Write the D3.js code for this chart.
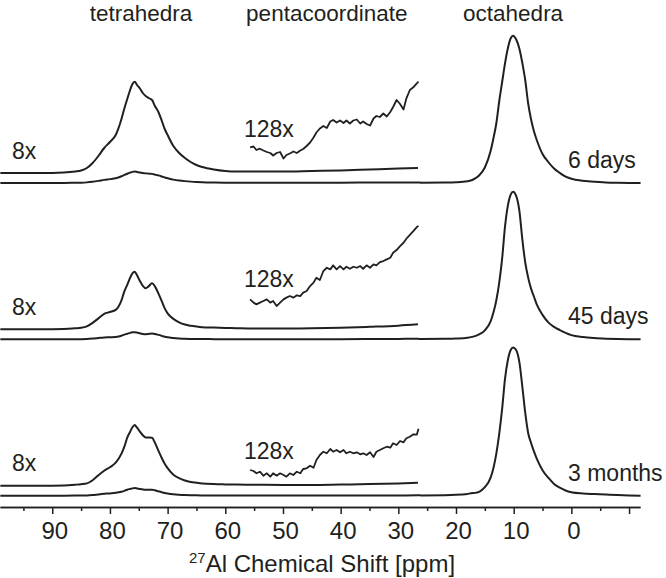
<!DOCTYPE html>
<html><head><meta charset="utf-8">
<script src="https://cdn.jsdelivr.net/npm/d3@7"></script>
<style>
body{margin:0;background:#fff}
svg{display:block}
text{font-family:"Liberation Sans",Arial,Helvetica,sans-serif;fill:#231f20}
</style>
</head><body>
<svg id="chart" width="666" height="578"></svg>
<script>
// ---------------- DATA ----------------
const samples = ["6 days", "45 days", "3 months"];
const regionLabels = ["tetrahedra", "pentacoordinate", "octahedra"];
const regionCenters = [74.6, 42.4, 10.1]; // ppm
const majorTicks = [90, 80, 70, 60, 50, 40, 30, 20, 10, 0, -10];
const minorTicks = [95, 85, 75, 65, 55, 45, 35, 25, 15, 5, -5];
const tickLabels = ["90", "80", "70", "60", "50", "40", "30", "20", "10", "0", ""];

// tetrahedral region (8x magnified trace), ppm grid
const tetraPpm = [99, 92, 88, 86, 85, 84, 83, 82, 81, 80, 79, 78, 77.5, 77, 76.5, 76.1, 75.7, 75.3, 74.8, 74.3, 73.8, 73.3, 72.7, 72.2, 71.6, 71, 70.5, 70, 69, 68, 67, 66, 65, 64, 62, 60, 58, 55, 50, 45, 40, 35, 30, 26.6];
const tetra8x_6days = [0, 0, 0.5, 1.5, 2.5, 5, 10, 17, 25, 31, 38, 54, 64.5, 74, 83, 89, 91.3, 88, 84.5, 80, 77, 75, 73, 67, 61, 52, 44, 38, 27, 20, 15, 11, 8, 6, 3.5, 2, 1.5, 1.5, 1.5, 2, 2.5, 3.5, 4.5, 5];
const tetra8x_45days = [0, 0, 0.3, 1, 1.5, 3, 6.5, 11, 15.5, 17.3, 19.5, 29, 38, 44.5, 51.6, 56, 57.6, 54, 48.3, 43.5, 41.2, 43, 46, 43, 36, 28, 21, 16, 10.5, 7, 4.8, 3.6, 2.8, 2.2, 1.8, 1.4, 1.1, 0.8, 0.8, 1, 1.5, 2.5, 3.7, 5];
const tetra8x_3months = [0, 0, 0.3, 1, 1.5, 2.3, 5.5, 10.5, 15, 18.5, 23, 32, 39, 48, 54, 58.5, 60.7, 58, 54, 50.5, 48.3, 48.3, 48, 43, 35, 27.5, 22, 17.5, 11, 7.5, 5.2, 3.8, 3, 2.3, 1.6, 1.3, 1.1, 1, 0.8, 0.8, 1.2, 1.6, 2.3, 3];

// pentacoordinate region (128x magnified trace), ppm grid
const pentaPpm = [55.7, 55.1, 54.6, 54.0, 53.4, 52.8, 52.2, 51.7, 51.1, 50.5, 49.9, 49.4, 48.8, 48.2, 47.6, 47.0, 46.5, 45.9, 45.3, 44.7, 44.2, 43.6, 43.0, 42.4, 41.8, 41.3, 40.7, 40.1, 39.5, 39.0, 38.4, 37.8, 37.2, 36.6, 36.1, 35.5, 34.9, 34.3, 33.8, 33.2, 32.6, 32.0, 31.4, 30.9, 30.3, 29.7, 29.1, 28.6, 28.0, 27.4, 26.8, 26.5];
const penta128x_6days = [3.7, 4.5, 1.0, 2.3, 0.5, -1.0, -2.0, -4.5, -2.0, -1.0, -7.5, -4.0, -2.5, -0.5, -2.0, 0.5, 2.0, 5.0, 8.5, 13.5, 18.5, 22.5, 25, 23, 29.5, 31, 28.5, 30.5, 28, 30.5, 27.5, 30.5, 31.5, 27.5, 29.5, 27, 25.5, 32.5, 35, 34, 37.5, 34.5, 39, 44, 51, 47, 41.5, 52.7, 61, 63.7, 67.7, 69.3];
const penta128x_45days = [6, 2.7, 1, 2.7, 4.3, 6, 2.7, 4.3, -0.7, 2.7, 6, 7.7, 9.3, 7.7, 10, 9.3, 12.7, 14.3, 19.3, 22.7, 27.6, 25.3, 34.3, 37.6, 36, 40, 36, 39.3, 36, 38.6, 36.6, 38.6, 37.6, 39.3, 36.6, 40, 37.6, 41, 40, 43.3, 44.3, 46, 47.6, 52.6, 55.3, 59.3, 62.6, 66.6, 70.5, 74.3, 78.3, 79.3];
const penta128x_3months = [4.7, 3.7, 1.4, 3, -1, 1.4, -2, 1.4, -1, 1.4, -0.3, -2, 1.4, -0.3, 3, 1.4, 5.7, 6.4, 9, 7, 14.7, 19.7, 23, 21.4, 25.7, 23, 24.7, 22.4, 24.7, 21.4, 23, 21.4, 22.4, 20.4, 21.4, 19.7, 22.4, 17.7, 23, 24.7, 26.4, 28, 27, 31.4, 29.7, 33.7, 32.4, 36.4, 38, 40.4, 40, 46];

// octahedral region (1x trace), ppm grid
const octaPpm = [26, 22, 20, 18, 17, 16, 15, 14, 13.5, 13, 12.5, 12, 11.5, 11, 10.5, 10.1, 9.6, 9, 8.5, 8, 7.5, 7, 6.5, 6, 5, 4, 3, 2, 1, 0, -2, -4, -6, -8, -10, -12];
const octa_6days = [0.3, 0.5, 0.8, 1.8, 3.5, 7.5, 15.5, 32, 45, 60, 82, 101, 119.7, 135, 145, 147.3, 144, 134, 120, 103, 80, 64, 52, 43, 29, 21, 14.5, 10, 6.3, 4.3, 2.3, 1.2, 0.6, 0.3, 0.1, 0];
const octa_45days = [0.3, 0.5, 0.8, 1.6, 2.7, 5, 9, 18, 27, 39.3, 57, 81, 113, 134, 145, 147.6, 144, 128, 100, 77, 62, 51, 43, 35, 24.5, 17, 12.5, 9.3, 6.5, 4.2, 2.3, 1.3, 0.7, 0.3, 0.1, 0];
const octa_3months = [0.3, 0.5, 0.9, 1.8, 2.6, 3.9, 8.5, 18, 28, 42.4, 62, 87, 117, 136, 146, 148.3, 146, 133, 109, 83, 63, 53, 44.5, 37, 25.5, 18, 11.8, 8, 5.2, 3.5, 2.2, 1.6, 1.1, 0.6, 0.2, 0];

const magnif8 = 8;
const tetraSeries = [tetra8x_6days, tetra8x_45days, tetra8x_3months];
const pentaSeries = [penta128x_6days, penta128x_45days, penta128x_3months];
const octaSeries = [octa_6days, octa_45days, octa_3months];

// ---------------- LAYOUT ----------------
const trace8xOffset = 10;              // amplitude units above 1x baseline
const trace128xOffset = [32, 34, 21];  // amplitude units above 1x baseline
const label128Dy = [14, 18, 16];

const svg = d3.select("#chart");
const x = d3.scaleLinear().domain([99.06, -11.9]).range([0, 640]);
const rowY = d3.scaleLinear().domain([0, samples.length - 1]).range([183, 495.7]);
const amp = d3.scaleLinear().domain([0, 150]).range([0, 150]);

const ink = "#231f20";
const smooth = d3.line().curve(d3.curveMonotoneX);
const jagged = d3.line().curve(d3.curveLinear);

samples.forEach((name, i) => {
  const base = rowY(i);
  const t = tetraSeries[i], p = pentaSeries[i], o = octaSeries[i];

  // 1x full trace
  const pts1 = tetraPpm.map((ppm, k) => [x(ppm), base - amp(t[k] / magnif8)])
    .concat(octaPpm.map((ppm, k) => [x(ppm), base - amp(o[k])]));
  svg.append("path").attr("d", smooth(pts1))
    .attr("fill", "none").attr("stroke", ink).attr("stroke-width", 2).attr("stroke-linejoin", "round");

  // 8x trace
  const pts8 = tetraPpm.map((ppm, k) => [x(ppm), base - amp(trace8xOffset + t[k])]);
  svg.append("path").attr("d", smooth(pts8))
    .attr("fill", "none").attr("stroke", ink).attr("stroke-width", 2).attr("stroke-linejoin", "round");

  // 128x trace
  const pts128 = pentaPpm.map((ppm, k) => [x(ppm), base - amp(trace128xOffset[i] + p[k])]);
  svg.append("path").attr("d", jagged(pts128))
    .attr("fill", "none").attr("stroke", ink).attr("stroke-width", 1.8).attr("stroke-linejoin", "round");

  // labels
  svg.append("text").attr("x", 12).attr("y", base - amp(trace8xOffset) - 14.5)
    .attr("font-size", 23).text("8x");
  svg.append("text").attr("x", 244).attr("y", base - amp(trace128xOffset[i]) - label128Dy[i])
    .attr("font-size", 23).text("128x");
  svg.append("text").attr("x", 568).attr("y", base - 15)
    .attr("font-size", 23).text(name);
});

// region headers
regionLabels.forEach((lab, i) => {
  svg.append("text").attr("x", x(regionCenters[i])).attr("y", 21)
    .attr("text-anchor", "middle").attr("font-size", 22.5).text(lab);
});

// axis
const axisY = 507;
const gMinor = svg.append("g").attr("transform", `translate(0,${axisY})`)
  .call(d3.axisBottom(x).tickValues(minorTicks).tickSize(4).tickSizeOuter(0).tickFormat(""));
const gMajor = svg.append("g").attr("transform", `translate(0,${axisY})`)
  .call(d3.axisBottom(x).tickValues(majorTicks).tickSize(7).tickSizeOuter(0)
    .tickFormat((d, k) => tickLabels[k]));
[gMinor, gMajor].forEach(g => {
  g.selectAll("path,line").attr("stroke", ink).attr("stroke-width", 1.5);
});
gMajor.selectAll("text").attr("y", 32).attr("dy", 0).attr("dx", 2)
  .attr("font-size", 24).attr("font-family", "Liberation Sans, Arial, sans-serif").attr("fill", ink);

// axis title
const title = svg.append("text").attr("x", 322).attr("y", 572).attr("text-anchor", "middle");
title.append("tspan").attr("font-size", 15).attr("dy", -9).text("27");
title.append("tspan").attr("font-size", 24).attr("dy", 9).text("Al Chemical Shift [ppm]");
</script>
</body></html>
